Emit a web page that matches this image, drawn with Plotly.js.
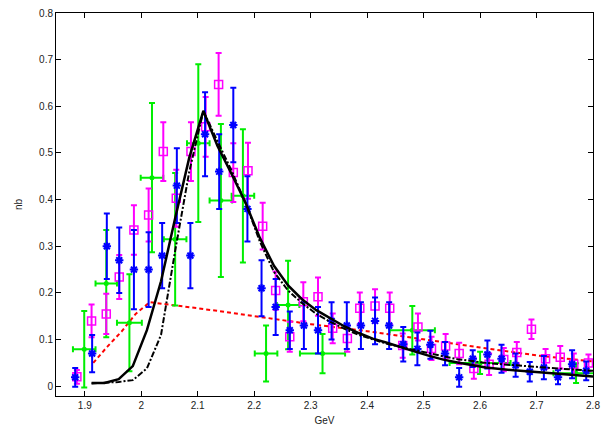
<!DOCTYPE html>
<html>
<head>
<meta charset="utf-8">
<script src="https://cdn.plot.ly/plotly-3.0.1.min.js"></script>
<style>html,body{margin:0;padding:0;background:#fff;}#chart{width:613px;height:429px;}</style>
</head>
<body>
<div id="chart"></div>
<script>
// Blue data set (x/y error bars)
const blueX = [1.883, 1.913, 1.939, 1.961, 1.987, 2.013, 2.037, 2.063, 2.087, 2.113, 2.138, 2.163, 2.188, 2.213, 2.238, 2.263, 2.288, 2.313, 2.337, 2.364, 2.389, 2.414, 2.439, 2.464, 2.489, 2.512, 2.538, 2.563, 2.587, 2.613, 2.638, 2.663, 2.688, 2.713, 2.738, 2.763, 2.788];
const blueY = [0.019, 0.07, 0.30, 0.27, 0.25, 0.25, 0.28, 0.43, 0.28, 0.54, 0.46, 0.56, 0.38, 0.21, 0.17, 0.12, 0.13, 0.12, 0.14, 0.13, 0.13, 0.14, 0.13, 0.09, 0.08, 0.089, 0.07, 0.019, 0.059, 0.068, 0.059, 0.045, 0.031, 0.04, 0.019, 0.047, 0.033];
const blueErrY = [0.02, 0.04, 0.07, 0.07, 0.085, 0.08, 0.07, 0.08, 0.07, 0.09, 0.08, 0.08, 0.07, 0.06, 0.06, 0.04, 0.05, 0.05, 0.04, 0.05, 0.05, 0.05, 0.05, 0.037, 0.035, 0.03, 0.025, 0.02, 0.018, 0.03, 0.03, 0.025, 0.021, 0.025, 0.015, 0.03, 0.02];
const blueErrX = 0.012;

// Magenta data set (open squares)
const magX = [1.886, 1.912, 1.938, 1.961, 1.987, 2.013, 2.039, 2.062, 2.088, 2.114, 2.137, 2.163, 2.189, 2.215, 2.238, 2.263, 2.287, 2.313, 2.339, 2.365, 2.387, 2.414, 2.44, 2.463, 2.49, 2.514, 2.539, 2.563, 2.589, 2.616, 2.642, 2.665, 2.691, 2.716, 2.742, 2.766, 2.792];
const magY = [0.02, 0.14, 0.155, 0.234, 0.335, 0.367, 0.503, 0.403, 0.503, 0.556, 0.647, 0.458, 0.462, 0.343, 0.205, 0.106, 0.181, 0.192, 0.124, 0.102, 0.167, 0.172, 0.167, 0.087, 0.127, 0.081, 0.086, 0.07, 0.038, 0.047, 0.057, 0.072, 0.122, 0.059, 0.062, 0.047, 0.05];
const magErrY = [0.015, 0.035, 0.043, 0.047, 0.053, 0.057, 0.063, 0.061, 0.063, 0.064, 0.067, 0.063, 0.06, 0.05, 0.041, 0.032, 0.042, 0.041, 0.032, 0.028, 0.034, 0.036, 0.034, 0.026, 0.029, 0.025, 0.026, 0.023, 0.022, 0.023, 0.025, 0.023, 0.021, 0.021, 0.024, 0.023, 0.018];

// Green data set (filled circles)
const greenX = [1.899, 1.938, 1.979, 2.019, 2.06, 2.101, 2.141, 2.18, 2.221, 2.26, 2.321, 2.48, 2.6, 2.77];
const greenY = [0.079, 0.22, 0.136, 0.447, 0.315, 0.521, 0.398, 0.408, 0.07, 0.174, 0.07, 0.12, 0.05, 0.028];
const greenErrY = [0.082, 0.115, 0.104, 0.16, 0.142, 0.169, 0.164, 0.143, 0.06, 0.095, 0.042, 0.052, 0.024, 0.021];
const greenErrX = [0.02, 0.019, 0.022, 0.02, 0.02, 0.02, 0.02, 0.02, 0.02, 0.02, 0.04, 0.04, 0.054, 0.04];

// Red dashed curve
const redX = [1.915, 1.94, 1.965, 1.99, 2.015, 2.05, 2.1, 2.15, 2.2, 2.3, 2.4, 2.5, 2.6, 2.7, 2.8];
const redY = [0.05, 0.085, 0.117, 0.155, 0.18, 0.174, 0.167, 0.159, 0.15, 0.133, 0.118, 0.1, 0.083, 0.066, 0.053];

// Black solid curve
const solidX = [1.912, 1.935, 1.96, 1.985, 2.01, 2.035, 2.06, 2.085, 2.11, 2.135, 2.16, 2.185, 2.21, 2.235, 2.26, 2.285, 2.31, 2.335, 2.36, 2.385, 2.41, 2.435, 2.46, 2.485, 2.51, 2.535, 2.56, 2.585, 2.61, 2.66, 2.71, 2.76, 2.8];
const solidY = [0.007, 0.007, 0.015, 0.043, 0.12, 0.225, 0.36, 0.49, 0.59, 0.515, 0.455, 0.392, 0.318, 0.258, 0.216, 0.186, 0.163, 0.145, 0.128, 0.114, 0.102, 0.093, 0.083, 0.074, 0.065, 0.057, 0.051, 0.045, 0.04, 0.034, 0.029, 0.025, 0.021];

// Black dash-dot curve
const dashdotX = [1.912, 1.935, 1.96, 1.985, 2.01, 2.035, 2.06, 2.085, 2.11, 2.135, 2.16, 2.185, 2.21, 2.235, 2.26, 2.285, 2.31, 2.335, 2.36, 2.385, 2.41, 2.435, 2.46, 2.485, 2.51, 2.535, 2.56, 2.61, 2.66, 2.71, 2.76, 2.8];
const dashdotY = [0.006, 0.007, 0.009, 0.013, 0.038, 0.11, 0.29, 0.46, 0.59, 0.525, 0.462, 0.392, 0.31, 0.245, 0.205, 0.178, 0.155, 0.138, 0.123, 0.11, 0.1, 0.091, 0.084, 0.077, 0.07, 0.064, 0.058, 0.05, 0.045, 0.04, 0.036, 0.033];

const xTicks = [1.9, 2, 2.1, 2.2, 2.3, 2.4, 2.5, 2.6, 2.7, 2.8];
const yTicks = [0, 0.1, 0.2, 0.3, 0.4, 0.5, 0.6, 0.7, 0.8];

const traces = [
  {x: redX, y: redY, mode: 'lines', line: {color: '#ff0000', width: 2, dash: '4px,3px'}, hoverinfo: 'skip'},
  {x: greenX, y: greenY, mode: 'markers', marker: {symbol: 'circle', size: 5, color: '#00ee00'},
   error_y: {type: 'data', array: greenErrY, color: '#00ee00', thickness: 2, width: 3},
   error_x: {type: 'data', array: greenErrX, color: '#00ee00', thickness: 2, width: 3}},
  {x: magX, y: magY, mode: 'markers', marker: {symbol: 'square-open', size: 8, color: '#ff00ff', line: {width: 1.5, color: '#ff00ff'}},
   error_y: {type: 'data', array: magErrY, color: '#ff00ff', thickness: 2, width: 3}},
  {x: blueX, y: blueY, mode: 'markers', marker: {symbol: 'asterisk-open', size: 7, color: '#0000ff', line: {width: 2, color: '#0000ff'}},
   error_y: {type: 'data', array: blueErrY, color: '#0000ff', thickness: 2, width: 3},
   error_x: {type: 'data', value: blueErrX, color: '#0000ff', thickness: 2, width: 3}},
  {x: solidX, y: solidY, mode: 'lines', line: {color: '#000000', width: 2.5}},
  {x: dashdotX, y: dashdotY, mode: 'lines', line: {color: '#000000', width: 2, dash: '6px,2px,2px,2px'}}
];

const axisCommon = {
  showgrid: false, zeroline: false, showline: true, linecolor: '#000', linewidth: 1,
  mirror: 'ticks', ticks: 'inside', ticklen: 5, tickcolor: '#000', tickwidth: 1,
  tickfont: {family: 'Liberation Sans, Arial, sans-serif', size: 10, color: '#222'}
};

const layout = {
  width: 613, height: 429,
  margin: {l: 56, r: 20, t: 13, b: 33},
  paper_bgcolor: '#fff', plot_bgcolor: '#fff',
  showlegend: false,
  xaxis: Object.assign({}, axisCommon, {
    range: [1.849, 2.8], tickvals: xTicks, ticktext: xTicks.map(String),
    title: {text: 'GeV', font: {family: 'Liberation Sans, Arial, sans-serif', size: 10, color: '#222'}, standoff: 6}
  }),
  yaxis: Object.assign({}, axisCommon, {
    range: [-0.021, 0.8], tickvals: yTicks, ticktext: yTicks.map(String),
    title: {text: 'nb', font: {family: 'Liberation Sans, Arial, sans-serif', size: 10, color: '#222'}, standoff: 14}
  })
};

Plotly.newPlot('chart', traces, layout, {displayModeBar: false, staticPlot: true});
</script>
</body>
</html>
